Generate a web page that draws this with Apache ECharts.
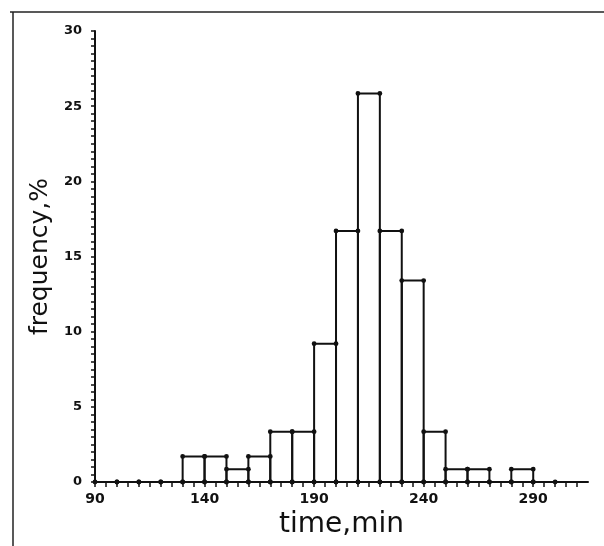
<!DOCTYPE html>
<html>
<head>
<meta charset="utf-8">
<script src="https://cdn.jsdelivr.net/npm/echarts@6/dist/echarts.min.js"></script>
<style>html,body{margin:0;padding:0;background:#fff;}#c{width:604px;height:546px;}</style>
</head>
<body>
<div id="c"></div>
<script>
// bin start (min), bin width 10 min
var binStarts = [90,100,110,120,130,140,150,160,170,180,190,200,210,220,230,240,250,260,270,280,290];
var frequency = [0,0,0,0,1.7,1.7,0.85,1.7,3.35,3.35,9.2,16.7,25.85,16.7,13.4,3.35,0.85,0.85,0,0.85,0];
var xLabels = [90,140,190,240,290];
var yLabels = [0,5,10,15,20,25,30];
var binWidth = 10;

var chart = echarts.init(document.getElementById('c'), null, {renderer:'canvas'});
var data = binStarts.map(function(s,i){return [s, frequency[i]];});
var ink = '#111';
chart.setOption({
  animation:false,
  backgroundColor:'#fff',
  grid:{left:95, right:16, top:31, bottom:64},
  graphic:[
    {type:'line', shape:{x1:10,y1:12,x2:604,y2:12}, style:{stroke:'#222', lineWidth:1.5}},
    {type:'line', shape:{x1:13,y1:12,x2:13,y2:546}, style:{stroke:'#222', lineWidth:1.5}}
  ],
  xAxis:{
    type:'value', min:90, max:315, interval:5,
    name:'time,min', nameLocation:'middle', nameGap:25,
    nameTextStyle:{fontFamily:'DejaVu Sans', fontSize:28, color:ink},
    axisLine:{show:true, onZero:false, lineStyle:{color:ink, width:2}},
    axisTick:{show:true, inside:false, length:5, lineStyle:{color:ink, width:1.5}},
    axisLabel:{show:true, margin:10, color:ink, fontFamily:'DejaVu Sans', fontWeight:'bold', fontSize:14,
      showMinLabel:true, showMaxLabel:false,
      formatter:function(v){return xLabels.indexOf(v)>=0 ? String(v) : '';}},
    splitLine:{show:false}
  },
  yAxis:{
    type:'value', min:0, max:30, interval:0.5,
    name:'frequency,%', nameLocation:'middle', nameGap:40, nameRotate:90,
    nameTextStyle:{fontFamily:'DejaVu Sans', fontSize:25, color:ink},
    axisLine:{show:true, lineStyle:{color:ink, width:2}},
    axisTick:{show:true, inside:false, length:4, lineStyle:{color:ink, width:1.5}},
    axisLabel:{show:true, margin:13, color:ink, fontFamily:'DejaVu Sans', fontWeight:'bold', fontSize:13,
      formatter:function(v){return yLabels.indexOf(v)>=0 ? String(v) : '';}},
    splitLine:{show:false}
  },
  series:[{
    type:'custom',
    data:data,
    clip:false,
    renderItem:function(params, api){
      var s = api.value(0), v = api.value(1);
      var p0 = api.coord([s,0]), p1 = api.coord([s+binWidth, v]);
      var x0=p0[0], y0=p0[1], x1=p1[0], y1=p1[1];
      var children = [];
      if (v > 0) {
        children.push({type:'polyline', shape:{points:[[x0,y0],[x0,y1],[x1,y1],[x1,y0]]},
          style:{stroke:ink, lineWidth:2, fill:null}});
      }
      var pts = v>0 ? [[x0,y0],[x0,y1],[x1,y1],[x1,y0]] : [[x0,y0],[x1,y0]];
      pts.forEach(function(p){
        children.push({type:'circle', shape:{cx:p[0], cy:p[1], r:2.4}, style:{fill:ink}});
      });
      return {type:'group', children:children};
    }
  }]
});
</script>
</body>
</html>
